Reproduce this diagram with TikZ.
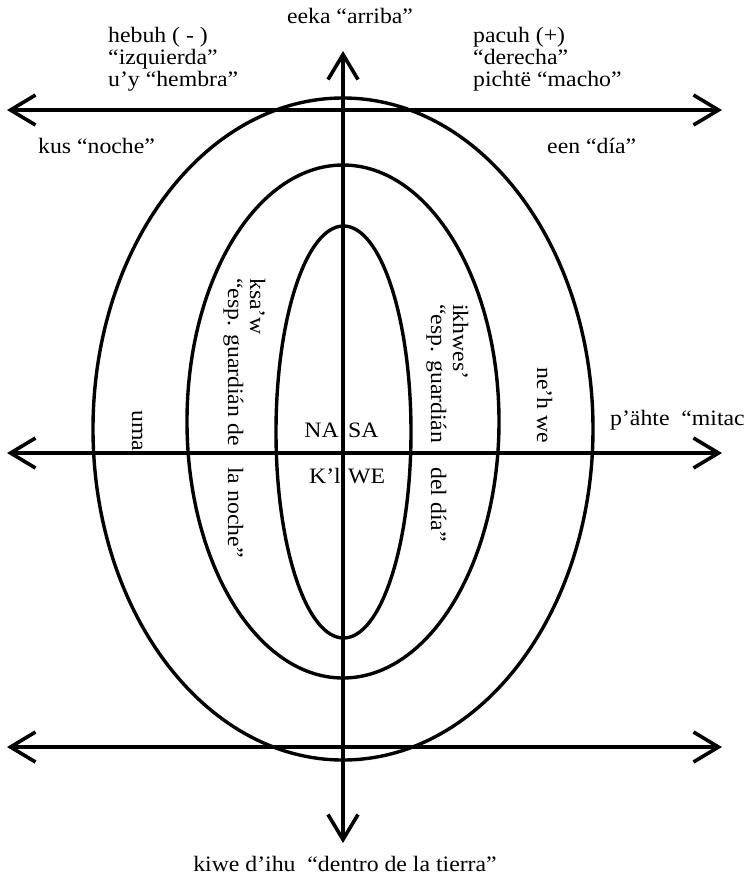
\documentclass[tikz,border=0pt]{standalone}
\usepackage{fontspec}
\setmainfont{Liberation Serif}[FakeStretch=1.08]
\usetikzlibrary{arrows.meta}

\begin{document}
\begin{tikzpicture}[x=1pt, y=-1pt,
  every node/.style={font=\fontsize{22pt}{22pt}\selectfont, inner sep=0pt},
  axis/.style={line width=3.6pt, {Straight Barb[length=25pt,width=30pt]}-{Straight Barb[length=25pt,width=30pt]}},
  ring/.style={line width=3.4pt},
  vlbl/.style={rotate=-90, anchor=base west, align=left}]
  \useasboundingbox (0,0) rectangle (750,887);

  % the three rings
  \coordinate (outerc) at (343,429);
  \coordinate (midc) at (343,421.5);
  \coordinate (innerc) at (343.5,432);
  \draw[ring] (outerc) ellipse [x radius=250pt, y radius=331pt];
  \draw[ring] (midc) ellipse [x radius=156pt, y radius=256.5pt];
  \draw[ring] (innerc) ellipse [x radius=67.5pt, y radius=206pt];

  % axes
  \coordinate (up) at (343,51);
  \coordinate (down) at (343,843);
  \coordinate (tl) at (7,110);  \coordinate (tr) at (722,110);
  \coordinate (ml) at (7,453);  \coordinate (mr) at (722,453);
  \coordinate (bl) at (7,747);  \coordinate (br) at (722,747);
  \draw[axis] (down) -- (up);
  \draw[axis] (tl) -- (tr);
  \draw[axis] (ml) -- (mr);
  \draw[axis] (bl) -- (br);

  % base of a block of lines = its last line
  \node[anchor=base] (eeka) at (350,23) {eeka “arriba”};
  \node[anchor=base west, align=left] (hebuh) at (108,86) {hebuh ( - )\\“izquierda”\\u’y “hembra”};
  \node[anchor=base west, align=left] (pacuh) at (473,86) {pacuh (+)\\“derecha”\\pichtë “macho”};
  \node[anchor=base west] (kus) at (38,153) {kus “noche”};
  \node[anchor=base west] (een) at (547,153) {een “día”};
  \node[anchor=base west] (pahte) at (610,425) {p’ähte \ “mitac};

  \node[vlbl] (uma) at (132,410) {uma};
  \node[vlbl] (ksaw) at (228,278) {ksa’w\\“esp. guardián de};
  \node[vlbl] (noche) at (228,467) {la noche”};
  \node[vlbl] (ikhwes) at (431,304) {ikhwes’\\“esp. guardián};
  \node[vlbl] (dia) at (431,467) {del día”};
  \node[vlbl] (nehwe) at (537,367) {ne’h we};

  \node[anchor=base east] (na) at (339,437) {NA};
  \node[anchor=base west] (sa) at (348,437) {SA};
  \node[anchor=base east] (kl) at (341,483) {K’l};
  \node[anchor=base west] (we) at (348,483) {WE};

  \node[anchor=base] (kiwe) at (345,871) {kiwe d’ihu \ “dentro de la tierra”};
\end{tikzpicture}
\end{document}
